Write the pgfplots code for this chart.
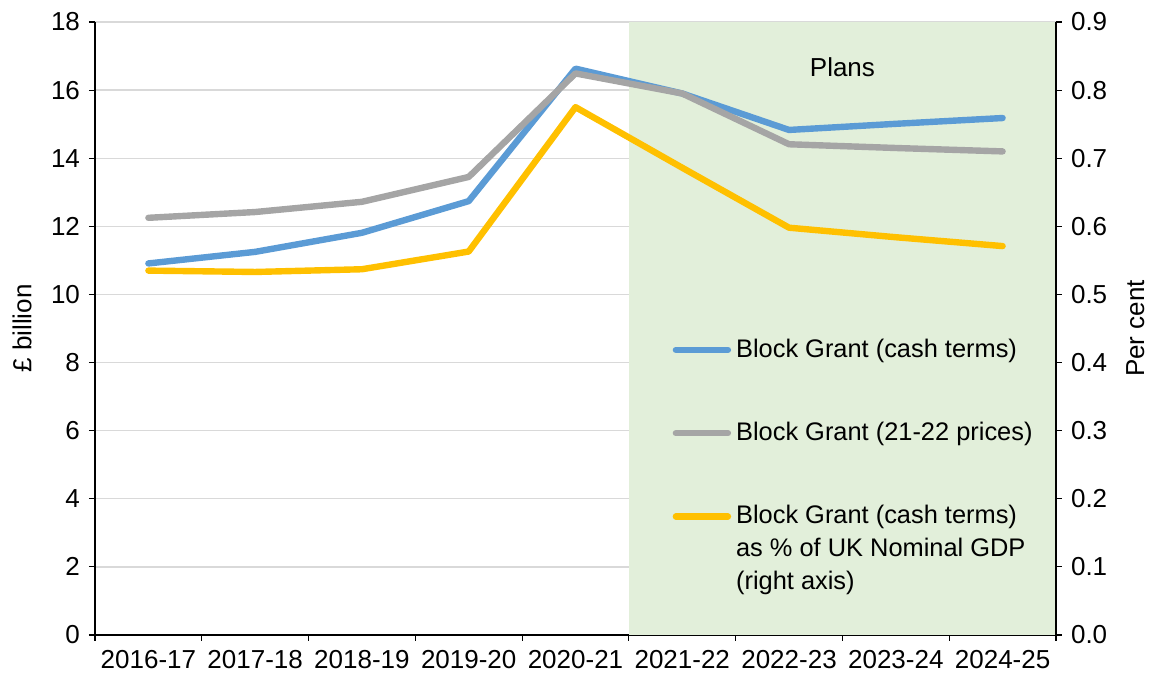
\documentclass[border=0pt]{standalone}
\usepackage{fontspec}
\setmainfont{Liberation Sans}
\usepackage{pgfplots}
\pgfplotsset{compat=1.18}
\definecolor{cblue}{HTML}{5B9BD5}
\definecolor{cgray}{HTML}{A5A5A5}
\definecolor{cyellow}{HTML}{FFC000}
\definecolor{shade}{HTML}{E2EFDA}
\definecolor{gridc}{HTML}{D9D9D9}
\begin{document}
\fontsize{13}{16.5}\selectfont
\begin{tikzpicture}
\path[use as bounding box] (0,0) rectangle (576pt,340pt);
\begin{axis}[
  at={(47.5pt,22.5pt)}, anchor=south west,
  scale only axis, width=480.5pt, height=306.5pt,
  xmin=-0.5, xmax=8.5, ymin=0, ymax=18,
  axis lines*=left,
  axis line style={line width=0.6pt, black},
  xtick={0,...,8},
  xticklabels={2016-17,2017-18,2018-19,2019-20,2020-21,2021-22,2022-23,2023-24,2024-25},
  major x tick style={draw=none},
  minor xtick={-0.5,0.5,1.5,2.5,3.5,4.5,5.5,6.5,7.5,8.5},
  minor x tick style={black, line width=0.6pt},
  minor tick length=3pt, major tick length=3pt,
  tick align=outside,
  ytick={0,2,...,18},
  y tick style={black, line width=0.6pt},
  ymajorgrids, grid style={draw=gridc, line width=0.7pt},
  /pgf/number format/assume math mode=true,
  ticklabel style={font=\fontsize{13}{16}\selectfont},
  ylabel={£ billion},
  ylabel style={at={(axis description cs:-0.076,0.5)}, anchor=center, font=\fontsize{13}{16}\selectfont},
  clip=false,
]
\addplot[fill=shade, draw=none] coordinates {(4.5,0) (4.5,18) (8.5,18) (8.5,0)} -- cycle;
\addplot[cblue, line width=3.2pt, line join=round, line cap=round] coordinates {
(0,10.91) (1,11.25) (2,11.81) (3,12.74) (4,16.63) (5,15.90) (6,14.83) (7,15.01) (8,15.18)};
\addplot[cgray, line width=3.2pt, line join=round, line cap=round] coordinates {
(0,12.25) (1,12.42) (2,12.72) (3,13.45) (4,16.49) (5,15.90) (6,14.41) (7,14.30) (8,14.20)};
\node[font=\fontsize{13}{16}\selectfont] at (axis cs:6.5,16.68) {Plans};
\end{axis}
\begin{axis}[
  at={(47.5pt,22.5pt)}, anchor=south west,
  scale only axis, width=480.5pt, height=306.5pt,
  xmin=-0.5, xmax=8.5, ymin=0, ymax=0.9,
  axis x line=none, axis y line*=right,
  axis line style={line width=0.6pt, black},
  ytick={0,0.1,0.2,0.3,0.4,0.5,0.6,0.7,0.8,0.9},
  y tick style={black, line width=0.6pt},
  major tick length=3pt, tick align=outside,
  yticklabel style={/pgf/number format/fixed, /pgf/number format/fixed zerofill, /pgf/number format/precision=1, font=\fontsize{13}{16}\selectfont},
  /pgf/number format/assume math mode=true,
  ylabel={Per cent},
  ylabel style={at={(axis description cs:1.0825,0.5)}, anchor=center, font=\fontsize{13}{16}\selectfont},
  legend style={at={(0.5945,0.497)}, anchor=north west, draw=none, fill=none,
     row sep=26.5pt, font=\fontsize{12.7}{16.4}\selectfont, cells={anchor=west, align=left},
     nodes={inner xsep=2.5pt}},
  legend image code/.code={\draw[line width=3.2pt, line cap=round, #1] (0pt,0pt) -- (26pt,0pt);},
  clip=false,
]
\addlegendimage{cblue}
\addlegendentry{Block Grant (cash terms)}
\addlegendimage{cgray}
\addlegendentry{Block Grant (21-22 prices)}
\addlegendimage{cyellow, yshift=16.4pt}
\addlegendentry{Block Grant (cash terms)\\as \% of UK Nominal GDP\\(right axis)}
\addplot[cyellow, line width=3.2pt, line join=round, line cap=round, forget plot] coordinates {
(0,0.535) (1,0.533) (2,0.537) (3,0.563) (4,0.775) (5,0.686) (6,0.598) (7,0.584) (8,0.571)};
\end{axis}
\end{tikzpicture}
\end{document}
